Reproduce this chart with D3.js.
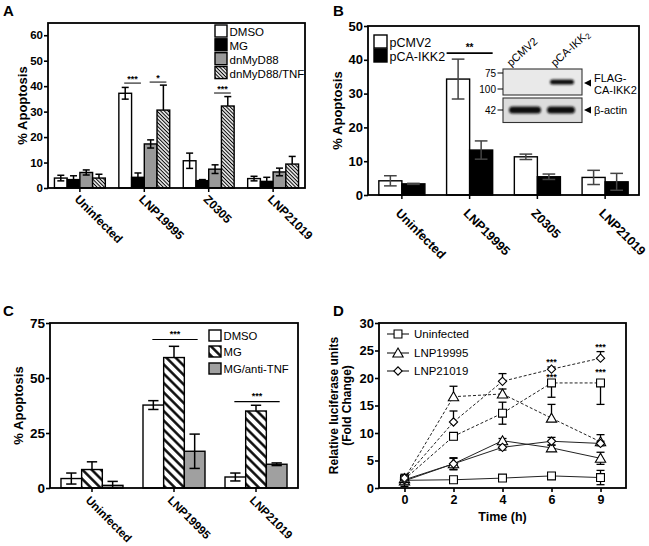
<!DOCTYPE html>
<html><head><meta charset="utf-8">
<script src="https://cdn.jsdelivr.net/npm/d3@7"></script>
<style>
html,body{margin:0;padding:0;background:#fff;}
svg{display:block;font-family:"Liberation Sans",Arial,Helvetica,sans-serif;}
</style></head><body>
<svg id="fig" width="649" height="546"></svg>
<script>
// ---------- DATA ----------
// Panel A
const catsA = ["Uninfected", "LNP19995", "Z0305", "LNP21019"];
const seriesA = ["DMSO", "MG", "dnMyD88", "dnMyD88/TNF"];
const valuesA = [
  [3.9, 37.2, 10.7, 3.7],
  [3.3, 4.2, 2.9, 2.6],
  [6.1, 17.3, 7.4, 6.3],
  [3.9, 30.6, 32.2, 9.4]
];
const errorsA = [
  [1.1, 2.3, 3.0, 0.9],
  [1.5, 1.7, 0.4, 1.6],
  [1.0, 1.6, 1.7, 1.5],
  [1.5, 9.8, 3.7, 3.0]
];
const ticksA = [0, 10, 20, 30, 40, 50, 60];
const sigA = [
  {cat: "LNP19995", a: 0, b: 1, value: 41.2, label: "***"},
  {cat: "LNP19995", a: 2, b: 3, value: 41.6, label: "*"},
  {cat: "Z0305", a: 2, b: 3, value: 37.3, label: "***"}
];

// Panel B
const catsB = ["Uninfected", "LNP19995", "Z0305", "LNP21019"];
const seriesB = ["pCMV2", "pCA-IKK2"];
const valuesB = [
  [4.2, 34.3, 11.3, 5.2],
  [3.3, 13.3, 5.4, 3.9]
];
const errorsB = [
  [1.5, 5.9, 0.8, 2.1],
  [0.15, 2.7, 0.8, 2.5]
];
const ticksB = [0, 10, 20, 30, 40, 50];
const sigB = [{cat: "LNP19995", a: 0, b: 1, value: 42.0, label: "**"}];
const blotLanes = ["pCMV2", "pCA-IKK"];
const blotMarkers = ["75", "100", "42"];

// Panel C
const catsC = ["Uninfected", "LNP19995", "LNP21019"];
const seriesC = ["DMSO", "MG", "MG/anti-TNF"];
const valuesC = [
  [4.3, 37.7, 5.0],
  [8.4, 59.3, 35.0],
  [1.2, 16.7, 10.8]
];
const errorsC = [
  [2.5, 2.0, 1.8],
  [3.5, 5.1, 2.6],
  [1.8, 7.8, 0.6]
];
const ticksC = [0, 25, 50, 75];
const sigC = [
  {cat: "LNP19995", a: 0, b: 2, value: 67.5, label: "***"},
  {cat: "LNP21019", a: 0, b: 2, value: 39.3, label: "***"}
];

// Panel D
const timesD = ["0", "2", "4", "6", "9"];
const seriesD = ["Uninfected", "LNP19995", "LNP21019"];
const solidD = [
  [1.4, 1.5, 1.8, 2.2, 1.9],
  [1.3, 4.4, 8.6, 7.3, 5.4],
  [1.5, 4.4, 7.4, 8.5, 8.1]
];
const solidErrD = [
  [1.1, 0.3, 0.3, 0.3, 1.3],
  [0.5, 1.1, 0.4, 0.5, 1.1],
  [0.4, 1.0, 0.5, 0.7, 0.4]
];
const dashedD = [
  [1.6, 9.4, 13.6, 19.1, 19.1],
  [1.7, 16.6, 17.1, 12.7, 8.4],
  [1.8, 12.0, 19.4, 21.6, 23.6]
];
const dashedErrD = [
  [0.5, 0.6, 2.0, 2.6, 3.9],
  [0.5, 1.9, 0.9, 2.5, 1.3],
  [0.5, 2.0, 1.4, 0.4, 1.2]
];
// 1 = upper arm only, -1 = lower arm only, 0 = both
const dashedErrDirD = [
  [0, 0, 0, -1, -1],
  [0, 1, 1, 1, 1],
  [0, 1, 1, 1, 1]
];
const ticksD = [0, 5, 10, 15, 20, 25, 30];
const starsD = [
  {time: "6", value: 23.1}, {time: "6", value: 20.3},
  {time: "9", value: 25.9}, {time: "9", value: 21.3}
];

// ---------- DRAWING ----------
const svg = d3.select("#fig");
const defs = svg.append("defs");
function hatch(id, period, width) {
  const p = defs.append("pattern").attr("id", id).attr("patternUnits", "userSpaceOnUse")
    .attr("width", period).attr("height", period).attr("patternTransform", "rotate(45)");
  p.append("rect").attr("width", period).attr("height", period).attr("fill", "#fff");
  p.append("line").attr("x1", 0).attr("y1", period / 2).attr("x2", period).attr("y2", period / 2)
    .attr("stroke", "#000").attr("stroke-width", width);
}
hatch("hatchA", 2.6, 1.1);
hatch("hatchC", 6.6, 2.4);
defs.append("filter").attr("id", "blur").attr("x", "-50%").attr("y", "-50%").attr("width", "200%").attr("height", "200%")
  .append("feGaussianBlur").attr("stdDeviation", 1.1);

function barPanel(cfg) {
  const g = svg.append("g");
  const x = d3.scaleBand().domain(cfg.cats).range([cfg.left, cfg.right])
    .paddingInner(cfg.padIn).paddingOuter(cfg.padOut);
  const xs = d3.scaleBand().domain(d3.range(cfg.series.length)).range([0, x.bandwidth()]);
  const y = d3.scaleLinear().domain([0, cfg.max]).range([cfg.bottom, cfg.top]);
  const bw = xs.bandwidth();
  const cx = (c, si) => x(c) + xs(si) + bw / 2;

  cfg.series.forEach((s, si) => {
    g.append("g").selectAll("rect").data(cfg.cats).join("rect")
      .attr("x", c => x(c) + xs(si)).attr("width", bw)
      .attr("y", (c, ci) => y(cfg.values[si][ci]))
      .attr("height", (c, ci) => y(0) - y(cfg.values[si][ci]))
      .attr("fill", cfg.fills[si]).attr("stroke", "#000").attr("stroke-width", 1.4);
  });
  // error bars
  const cap = bw * cfg.capFrac;
  cfg.series.forEach((s, si) => {
    const eg = g.append("g").attr("stroke", cfg.errColor).attr("stroke-width", 1.5).attr("fill", "none");
    cfg.cats.forEach((c, ci) => {
      const v = cfg.values[si][ci], e = cfg.errors[si][ci];
      const xc = cx(c, si);
      const yTop = y(v + e);
      const yLow = cfg.errBoth[si] ? y(Math.max(0, v - e)) : y(v);
      eg.append("line").attr("x1", xc).attr("x2", xc).attr("y1", yTop).attr("y2", yLow);
      eg.append("line").attr("x1", xc - cap / 2).attr("x2", xc + cap / 2).attr("y1", yTop).attr("y2", yTop);
      if (cfg.errBoth[si]) eg.append("line").attr("x1", xc - cap / 2).attr("x2", xc + cap / 2).attr("y1", yLow).attr("y2", yLow);
    });
  });
  // significance
  cfg.sig.forEach(s => {
    const x1 = cfg.sigFull ? x(s.cat) : cx(s.cat, s.a) - 1;
    const x2 = cfg.sigFull ? x(s.cat) + x.bandwidth() : cx(s.cat, s.b) + 3;
    g.append("line").attr("x1", x1).attr("x2", x2).attr("y1", y(s.value)).attr("y2", y(s.value))
      .attr("stroke", "#000").attr("stroke-width", cfg.sigStroke);
    g.append("text").attr("x", (x1 + x2) / 2).attr("y", y(s.value) + cfg.starDy)
      .attr("text-anchor", "middle").attr("font-size", cfg.starSize).attr("font-weight", "bold").text(s.label);
  });
  // frame
  g.append("rect").attr("x", cfg.left).attr("y", cfg.top).attr("width", cfg.right - cfg.left)
    .attr("height", cfg.bottom - cfg.top).attr("fill", "none").attr("stroke", "#000").attr("stroke-width", 1.8);
  // y axis
  const ya = g.append("g").attr("transform", `translate(${cfg.left},0)`)
    .call(d3.axisLeft(y).tickValues(cfg.ticks).tickSize(4).tickPadding(1).tickFormat(d3.format("d")));
  ya.select(".domain").remove();
  ya.selectAll("line").attr("stroke-width", 1.6);
  ya.selectAll("text").attr("font-size", cfg.tickFont).attr("font-weight", "bold")
    .attr("font-family", "'Liberation Sans', Arial, sans-serif").attr("fill", "#000");
  // x ticks and labels
  const xa = g.append("g").attr("transform", `translate(0,${cfg.bottom})`)
    .call(d3.axisBottom(x).tickSize(4).tickFormat(""));
  xa.select(".domain").remove();
  xa.selectAll("line").attr("stroke-width", 1.5);
  g.selectAll(null).data(cfg.cats).join("text")
    .attr("transform", c => `translate(${x(c) + x.bandwidth() / 2 + cfg.lblDx},${cfg.bottom + cfg.lblDy}) rotate(45)`)
    .attr("font-size", cfg.lblFont).attr("font-weight", "bold").text(c => c);
  // y title
  g.append("text").attr("transform", `translate(${cfg.titleX},${(cfg.top + cfg.bottom) / 2}) rotate(-90)`)
    .attr("text-anchor", "middle").attr("font-size", 13).attr("font-weight", "bold").text("% Apoptosis");
  // legend
  cfg.series.forEach((s, si) => {
    const ly = cfg.legTops[si];
    g.append("rect").attr("x", cfg.legX).attr("y", ly).attr("width", cfg.legW).attr("height", cfg.legH)
      .attr("fill", cfg.fills[si]).attr("stroke", "#000").attr("stroke-width", 1.4);
    g.append("text").attr("x", cfg.legX + cfg.legW + 2.5).attr("y", ly + cfg.legH - 1)
      .attr("font-size", cfg.legFont).text(s);
  });
  return {g, x, y};
}

// Panel A
barPanel({
  cats: catsA, series: seriesA, values: valuesA, errors: errorsA, ticks: ticksA, sig: sigA,
  left: 48, right: 305, top: 23, bottom: 188, max: 64.8,
  padIn: 0.21, padOut: 0.1,
  fills: ["#fff", "#000", "#999", "url(#hatchA)"], errBoth: [true, true, true, false],
  errColor: "#000", capFrac: 0.55, sigFull: false, sigStroke: 1, starSize: 9, starDy: -1.5,
  tickFont: 11.5, lblFont: 12, lblDx: -6, lblDy: 12, titleX: 27,
  legX: 215, legW: 12, legH: 12, legTops: [25, 38.8, 52.7, 66.6], legFont: 11.5
});

// Panel B
barPanel({
  cats: catsB, series: seriesB, values: valuesB, errors: errorsB, ticks: ticksB, sig: sigB,
  left: 368, right: 639, top: 26, bottom: 195, max: 50,
  padIn: 0.32, padOut: 0.16,
  fills: ["#fff", "#000"], errBoth: [true, true],
  errColor: "#444", capFrac: 0.55, sigFull: true, sigStroke: 1.8, starSize: 10, starDy: -2,
  tickFont: 13, lblFont: 12.5, lblDx: -7, lblDy: 19, titleX: 342,
  legX: 374, legW: 13, legH: 13, legTops: [35, 49], legFont: 12.5
});

// Blot inset in panel B
(function () {
  const g = svg.append("g");
  const bx = 503, bw = 79;
  g.append("rect").attr("x", bx).attr("y", 69).attr("width", bw).attr("height", 26)
    .attr("fill", "#e9e9e9").attr("stroke", "#333").attr("stroke-width", 1.1);
  g.append("rect").attr("x", bx).attr("y", 98).attr("width", bw).attr("height", 24.5)
    .attr("fill", "#dcdcdc").attr("stroke", "#333").attr("stroke-width", 1.1);
  g.append("rect").attr("x", 550).attr("y", 79.5).attr("width", 24).attr("height", 5).attr("rx", 2.5)
    .attr("fill", "#111").attr("filter", "url(#blur)");
  g.append("rect").attr("x", 509).attr("y", 106.5).attr("width", 32).attr("height", 7).attr("rx", 3.5)
    .attr("fill", "#111").attr("filter", "url(#blur)");
  g.append("rect").attr("x", 547).attr("y", 106.5).attr("width", 28).attr("height", 7).attr("rx", 3.5)
    .attr("fill", "#111").attr("filter", "url(#blur)");
  const my = [73, 89, 110];
  blotMarkers.forEach((m, i) => {
    g.append("text").attr("x", 496).attr("y", my[i] + 3.5).attr("text-anchor", "end").attr("font-size", 10).text(m);
    g.append("line").attr("x1", 497.5).attr("x2", 503).attr("y1", my[i]).attr("y2", my[i]).attr("stroke", "#000");
  });
  const lx = [511, 555];
  blotLanes.forEach((l, i) => {
    const t = g.append("text").attr("transform", `translate(${lx[i]},${67}) rotate(-42)`).attr("font-size", 11).attr("fill", "#000");
    t.append("tspan").text(l);
    if (i === 1) t.append("tspan").attr("font-size", 8).attr("dy", 2).attr("fill", "#000").text("2");
  });
  [[83, ["FLAG-", "CA-IKK2"]], [110, ["β-actin"]]].forEach(([yy, lines]) => {
    g.append("path").attr("d", `M584,${yy} L591,${yy - 3.5} L591,${yy + 3.5} Z`).attr("fill", "#000");
    lines.forEach((s, k) => {
      g.append("text").attr("x", 594).attr("y", lines.length === 1 ? yy + 4 : yy - 1.5 + k * 12)
        .attr("font-size", 11).text(s);
    });
  });
})();

// Panel C
barPanel({
  cats: catsC, series: seriesC, values: valuesC, errors: errorsC, ticks: ticksC, sig: sigC,
  left: 50, right: 298, top: 323, bottom: 488, max: 75,
  padIn: 0.244, padOut: 0.134,
  fills: ["#fff", "url(#hatchC)", "#a0a0a0"], errBoth: [true, false, true],
  errColor: "#000", capFrac: 0.5, sigFull: false, sigStroke: 1.2, starSize: 9, starDy: -3,
  tickFont: 13.5, lblFont: 11.5, lblDx: -7, lblDy: 13, titleX: 23,
  legX: 209, legW: 12, legH: 11, legTops: [330, 346, 363], legFont: 11.3
});

// Panel D
(function () {
  const left = 379, right = 626, top = 323, bottom = 488;
  const g = svg.append("g");
  const x = d3.scalePoint().domain(timesD).range([left, right]).padding(0.52);
  const y = d3.scaleLinear().domain([0, 30]).range([bottom, top]);
  const shapes = [
    d3.symbol().type(d3.symbolSquare).size(62),
    d3.symbol().type(d3.symbolTriangle).size(46),
    d3.symbol().type(d3.symbolSquare).size(34)
  ];
  const rot = [0, 0, 45];
  const line = d3.line().x((d, i) => x(timesD[i])).y(d => y(d));
  seriesD.forEach((s, si) => {
    g.append("path").attr("d", line(solidD[si])).attr("fill", "none").attr("stroke", "#222").attr("stroke-width", 1);
    g.append("path").attr("d", line(dashedD[si])).attr("fill", "none").attr("stroke", "#222").attr("stroke-width", 1)
      .attr("stroke-dasharray", "3,2");
  });
  function err(vals, errs, dirs) {
    vals.forEach((v, i) => {
      const xc = x(timesD[i]);
      const d = dirs ? dirs[i] : 0;
      const up = d >= 0 ? y(v + errs[i]) : y(v);
      const lo = d <= 0 ? y(Math.max(0, v - errs[i])) : y(v);
      g.append("line").attr("x1", xc).attr("x2", xc).attr("y1", up).attr("y2", lo).attr("stroke", "#000").attr("stroke-width", 1.3);
      if (d >= 0) g.append("line").attr("x1", xc - 4).attr("x2", xc + 4).attr("y1", up).attr("y2", up).attr("stroke", "#000").attr("stroke-width", 1.3);
      if (d <= 0) g.append("line").attr("x1", xc - 4).attr("x2", xc + 4).attr("y1", lo).attr("y2", lo).attr("stroke", "#000").attr("stroke-width", 1.3);
    });
  }
  seriesD.forEach((s, si) => {
    err(solidD[si], solidErrD[si], null);
    err(dashedD[si], dashedErrD[si], dashedErrDirD[si]);
  });
  seriesD.forEach((s, si) => {
    [solidD[si], dashedD[si]].forEach(vals => {
      g.append("g").selectAll("path").data(vals).join("path")
        .attr("transform", (d, i) => `translate(${x(timesD[i])},${y(d) + (si === 1 ? 1 : 0)}) rotate(${rot[si]})`)
        .attr("d", shapes[si]()).attr("fill", "#fff").attr("stroke", "#000").attr("stroke-width", 1.1);
    });
  });
  g.selectAll(null).data(starsD).join("text")
    .attr("x", d => x(d.time)).attr("y", d => y(d.value) + 4).attr("text-anchor", "middle")
    .attr("font-size", 9).attr("font-weight", "bold").text("***");
  g.append("rect").attr("x", left).attr("y", top).attr("width", right - left).attr("height", bottom - top)
    .attr("fill", "none").attr("stroke", "#000").attr("stroke-width", 1.8);
  const ya = g.append("g").attr("transform", `translate(${left},0)`)
    .call(d3.axisLeft(y).tickValues(ticksD).tickSize(4).tickPadding(1));
  ya.select(".domain").remove();
  ya.selectAll("line").attr("stroke-width", 1.6);
  ya.selectAll("text").attr("font-size", 13).attr("font-weight", "bold")
    .attr("font-family", "'Liberation Sans', Arial, sans-serif").attr("fill", "#000");
  const xa = g.append("g").attr("transform", `translate(0,${bottom})`)
    .call(d3.axisBottom(x).tickSize(4).tickPadding(3));
  xa.select(".domain").remove();
  xa.selectAll("line").attr("stroke-width", 1.6);
  xa.selectAll("text").attr("font-size", 12.5).attr("font-weight", "bold")
    .attr("font-family", "'Liberation Sans', Arial, sans-serif").attr("fill", "#000");
  g.append("text").attr("x", (left + right) / 2).attr("y", 521).attr("text-anchor", "middle")
    .attr("font-size", 12.5).attr("font-weight", "bold").text("Time (h)");
  g.append("text").attr("transform", `translate(338,${(top + bottom) / 2}) rotate(-90)`)
    .attr("text-anchor", "middle").attr("font-size", 12).attr("font-weight", "bold").text("Relative luciferase units");
  g.append("text").attr("transform", `translate(351,${(top + bottom) / 2}) rotate(-90)`)
    .attr("text-anchor", "middle").attr("font-size", 12).attr("font-weight", "bold").text("(Fold Change)");
  const legY = [334, 353, 371];
  seriesD.forEach((s, si) => {
    g.append("line").attr("x1", 387).attr("x2", 409).attr("y1", legY[si]).attr("y2", legY[si]).attr("stroke", "#000").attr("stroke-width", 1);
    g.append("path").attr("transform", `translate(398,${legY[si] + (si === 1 ? 1 : 0)}) rotate(${rot[si]})`)
      .attr("d", shapes[si]()).attr("fill", "#fff").attr("stroke", "#000").attr("stroke-width", 1.1);
    g.append("text").attr("x", 414).attr("y", legY[si] + 4).attr("font-size", 11.5).text(s);
  });
})();

// panel letters
[["A", 3, 16], ["B", 333, 16], ["C", 3, 316], ["D", 333, 316]].forEach(([t, lx, ly]) => {
  svg.append("text").attr("x", lx).attr("y", ly).attr("font-size", 15).attr("font-weight", "bold").text(t);
});
</script>
</body></html>
